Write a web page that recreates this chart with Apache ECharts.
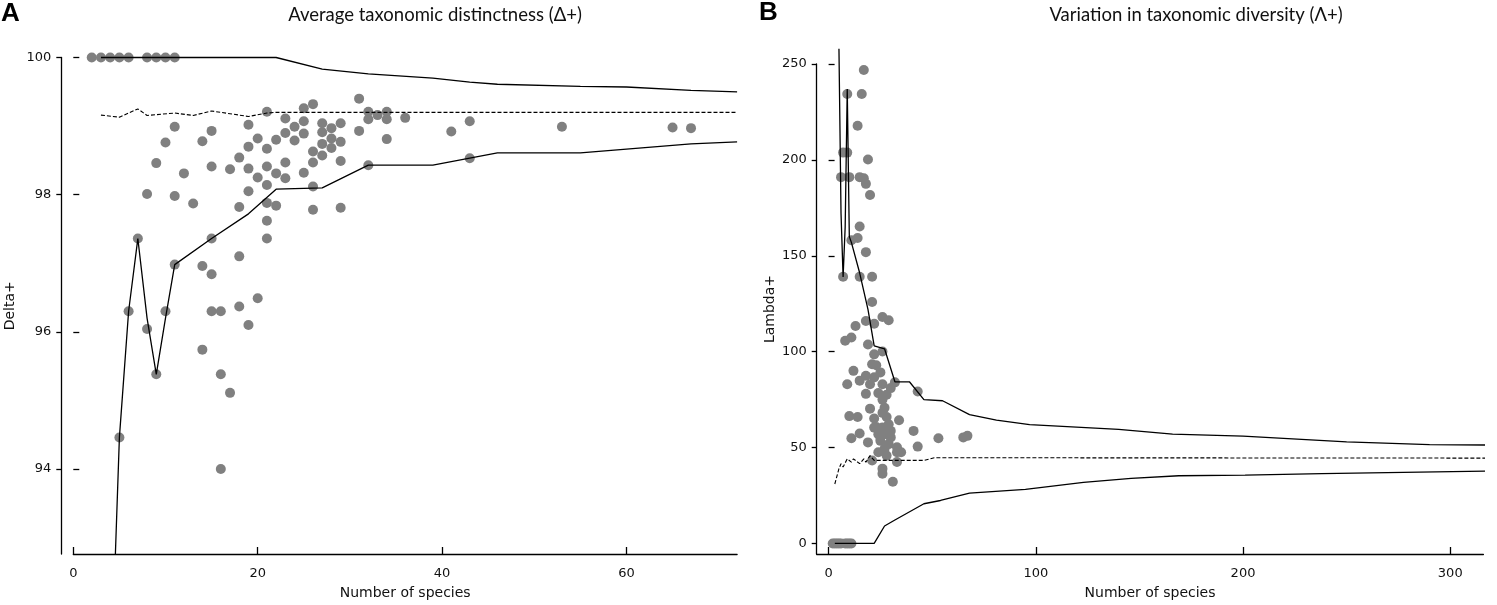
<!DOCTYPE html>
<html>
<head>
<meta charset="utf-8">
<script src="https://cdn.jsdelivr.net/npm/echarts@6/dist/echarts.min.js"></script>
<style>html,body{margin:0;padding:0;background:#fff;}#c{width:1497px;height:605px;}</style>
</head>
<body>
<div id="c"></div>
<script>
// ---- Panel A: Average taxonomic distinctness (Delta+) ----
const deltaPoints = [
  [2,100],[3,100],[4,100],[5,100],[6,100],[8,100],[9,100],[10,100],[11,100],
  [31,99.40],[32,99.21],[33,99.16],[34,99.21],[32,99.10],[34,99.10],[36,99.12],[31,98.93],[34,98.81],
  [41,98.92],[43,99.07],[43,98.53],[32,98.43],[26,99.32],[25,99.26],[21,99.21],[23,99.11],[25,99.07],
  [24,98.99],[27,99.04],[29,99.04],[19,99.02],[15,98.93],[14,98.78],[23,98.90],[25,98.89],[24,98.79],
  [22,98.80],[20,98.82],[27,98.91],[28,98.97],[28,98.82],[27,98.74],[29,98.77],[28,98.68],[26,98.63],
  [27,98.57],[26,98.47],[29,98.49],[19,98.70],[21,98.67],[18,98.54],[15,98.41],[17,98.37],[19,98.38],
  [21,98.41],[23,98.47],[22,98.31],[20,98.25],[23,98.24],[21,98.14],[25,98.32],[19,98.05],[26,98.12],
  [12,98.31],[13,97.87],[18,97.82],[21,97.88],[22,97.84],[21,97.62],[26,97.78],[29,97.81],
  [11,98.99],[10,98.76],[9,98.46],[8,98.01],[11,97.98],[21,97.36],[15,97.36],[7,97.36],[11,96.98],
  [14,96.96],[15,96.84],[18,97.10],[6,96.30],[10,96.30],[15,96.30],[16,96.30],[18,96.37],[20,96.49],
  [8,96.04],[19,96.10],[14,95.74],[9,95.38],[16,95.38],[17,95.11],[5,94.46],[16,94.00],
  [53,98.99],[65,98.98],[67,98.97]
];
const aUpperS = [3,22,27,32,39,43,46,55,60,67,72];
const aUpper  = [100,100,99.83,99.76,99.70,99.64,99.61,99.58,99.57,99.52,99.50];
const aMeanS  = [3,5,7,8,11,13,15,19,21,22,72];
const aMean   = [99.16,99.13,99.25,99.155,99.19,99.155,99.22,99.14,99.19,99.20,99.20];
const aLowerS = [4,5,6,7,8,9,10,11,15,19,22,27,32,39,46,55,67,72];
const aLower  = [90.55,94.46,96.30,97.36,96.2,95.38,96.2,96.98,97.36,97.72,98.08,98.10,98.43,98.43,98.61,98.61,98.74,98.77];
const aXTicks = [0,20,40,60];
const aYTicks = [94,96,98,100];

// ---- Panel B: Variation in taxonomic diversity (Lambda+) ----
const lambdaPoints = [
  [2,0],[3,0],[4,0],[5,0],[6,0],[8,0],[9,0],[10,0],[11,0],
  [17,246.9],[9,234.4],[16,234.4],[14,217.8],[7,203.8],[9,203.8],[19,200.2],[6,191],[10,191],[15,191],
  [17,190.4],[18,187.5],[20,181.7],[15,165.3],[14,159.3],[11,158.1],[18,151.9],[7,139.1],[15,139.1],
  [21,139.1],[21,125.9],[13,113.4],[18,116],[22,114.6],[26,118.1],[29,116.4],[8,105.7],[11,107.4],
  [19,103.7],[22,98.6],[26,100.1],[21,93.4],[23,92.9],[12,90],[25,89.2],[18,87.4],[22,86.6],[15,84.9],
  [9,83],[20,83],[26,83],[30,81],[32,84],[18,78],[24,78.4],[28,77.5],[43,79.2],[26,75],[27,70.7],
  [20,70.3],[10,66.4],[14,65.9],[22,65.2],[28,65.9],[34,64.2],[23,60.7],[30,58.7],[41,58.7],[11,54.9],
  [15,57.3],[19,52.7],[25,53.5],[29,51.8],[43,50.5],[53,54.9],[65,55.3],[67,56.1],[24,47.6],[33,47.6],
  [35,47.6],[21,43.3],[33,42.5],[26,39],[26,36.4],[31,32.2],[26,60.4],[28,57],[25,55.3],[22,60.4],
  [29,62.1],[26,68.1],[30,55.3],[33,50.1],[27,49.3],[24,57],[28,45.8]
];
const bUpperS = [5,6,7,8,9,10,11,15,19,22,27,32,39,46,55,68,81,97,140,166,200,250,290,322];
const bUpper  = [258,172,139,165,237,160,157,141,122,103,101.5,84.3,84.3,75,74.4,67.2,64.3,62,59.5,57,56,53,51.5,51.3];
const bMeanS  = [3,5,6,7,9,11,12,15,17,18,20,22,46,51,322];
const bMean   = [31,39,41.6,39.9,44.1,42.4,44.1,41.6,44.1,42.4,45.8,43.3,43.3,44.7,44.5];
const bLowerS = [3,22,27,32,46,54,68,95,123,146,169,201,238,322];
const bLower  = [0,0,9.1,12.2,20.7,22.4,26.2,28.2,31.8,33.9,35.3,35.6,36.4,37.8];
const bXTicks = [0,100,200,300];
const bYTicks = [0,50,100,150,200,250];

const zip = (xs, ys) => xs.map((x, i) => [x, ys[i]]);
const FONT = 'DejaVu Sans';
const TXT = '#111';
const LINE = '#000';

function xAxisDef(grid, min, max, ticks) {
  return {
    type: 'value', gridIndex: grid, min: min, max: max, position: 'bottom',
    name: 'Number of species', nameLocation: 'middle', nameGap: 32,
    nameTextStyle: {fontFamily: FONT, fontSize: 14, color: TXT},
    axisLine: {show: true, onZero: false, lineStyle: {color: LINE, width: 1.3}},
    axisTick: {show: true, inside: true, length: 7, customValues: ticks, lineStyle: {color: LINE, width: 1.3}},
    axisLabel: {customValues: ticks, margin: 13, fontFamily: FONT, fontSize: 13, color: TXT},
    splitLine: {show: false}
  };
}
function yAxisDef(grid, min, max, ticks, offset, name, nameGap) {
  return {
    type: 'value', gridIndex: grid, min: min, max: max, position: 'left', offset: offset,
    name: name, nameLocation: 'middle', nameGap: nameGap,
    nameTextStyle: {fontFamily: FONT, fontSize: 14, color: TXT},
    axisLine: {show: true, onZero: false, lineStyle: {color: LINE, width: 1.3}},
    axisTick: {show: true, inside: false, length: 5, customValues: ticks, lineStyle: {color: LINE, width: 1.3}},
    axisLabel: {customValues: ticks, margin: 10, fontFamily: FONT, fontSize: 13, color: TXT},
    splitLine: {show: false}
  };
}
function yOverlay(grid, min, max, ticks, offset) {
  return {
    type: 'value', gridIndex: grid, min: min, max: max, position: 'left', offset: offset,
    axisLine: {show: false}, axisLabel: {show: false}, splitLine: {show: false},
    axisTick: {show: true, inside: true, length: 6, customValues: ticks, lineStyle: {color: LINE, width: 1.3}}
  };
}
function lineSeries(x, y, data, dashed, clip) {
  return {
    type: 'line', xAxisIndex: x, yAxisIndex: y, data: data, showSymbol: false, symbol: 'none',
    clip: clip, z: 5, silent: true, animation: false,
    lineStyle: {color: LINE, width: dashed ? 1.1 : 1.3, type: dashed ? [4, 2] : 'solid'}
  };
}

const chart = echarts.init(document.getElementById('c'), null, {renderer: 'canvas'});
chart.setOption({
  backgroundColor: '#fff',
  animation: false,
  title: [
    {text: 'A', left: 1, top: 1, padding: 0, textStyle: {fontFamily: 'Liberation Sans', fontWeight: 'bold', fontSize: 26, color: '#000'}},
    {text: 'B', left: 759, top: 0, padding: 0, textStyle: {fontFamily: 'Liberation Sans', fontWeight: 'bold', fontSize: 26, color: '#000'}},
    {text: 'Average taxonomic distinctness (\u0394+)', left: 435, top: 6, padding: 0, textAlign: 'center',
     textStyle: {fontFamily: 'Lato', fontWeight: 'normal', fontSize: 18.5, color: TXT}},
    {text: 'Variation in taxonomic diversity (\u039B+)', left: 1196, top: 6, padding: 0, textAlign: 'center',
     textStyle: {fontFamily: 'Lato', fontWeight: 'normal', fontSize: 18.5, color: TXT}}
  ],
  grid: [
    {left: 73.3, top: 57.5, width: 663.8, height: 504.2, containLabel: false},
    {left: 816.7, top: 64, width: 666.7, height: 497.7, containLabel: false}
  ],
  xAxis: [
    xAxisDef(0, 0, 72, aXTicks),
    xAxisDef(1, -5.74, 316, bXTicks)
  ],
  yAxis: [
    yAxisDef(0, 92.76, 100, aYTicks, 12, 'Delta+', 44),
    yOverlay(0, 92.76, 100, aYTicks, 12),
    yAxisDef(1, -5.5, 250, bYTicks, 0, 'Lambda+', 39),
    yOverlay(1, -5.5, 250, bYTicks, 0)
  ],
  series: [
    {type: 'scatter', xAxisIndex: 0, yAxisIndex: 0, data: deltaPoints, symbolSize: 10, clip: false, z: 2,
     itemStyle: {color: '#808080', opacity: 1}},
    lineSeries(0, 0, zip(aUpperS, aUpper), false, false),
    lineSeries(0, 0, zip(aMeanS, aMean), true, false),
    lineSeries(0, 0, zip(aLowerS, aLower), false, true),
    {type: 'scatter', xAxisIndex: 1, yAxisIndex: 2, data: lambdaPoints, symbolSize: 10, clip: false, z: 2,
     itemStyle: {color: '#808080', opacity: 1}},
    lineSeries(1, 2, zip(bUpperS, bUpper), false, false),
    lineSeries(1, 2, zip(bMeanS, bMean), true, false),
    lineSeries(1, 2, zip(bLowerS, bLower), false, false)
  ]
});
</script>
</body>
</html>
